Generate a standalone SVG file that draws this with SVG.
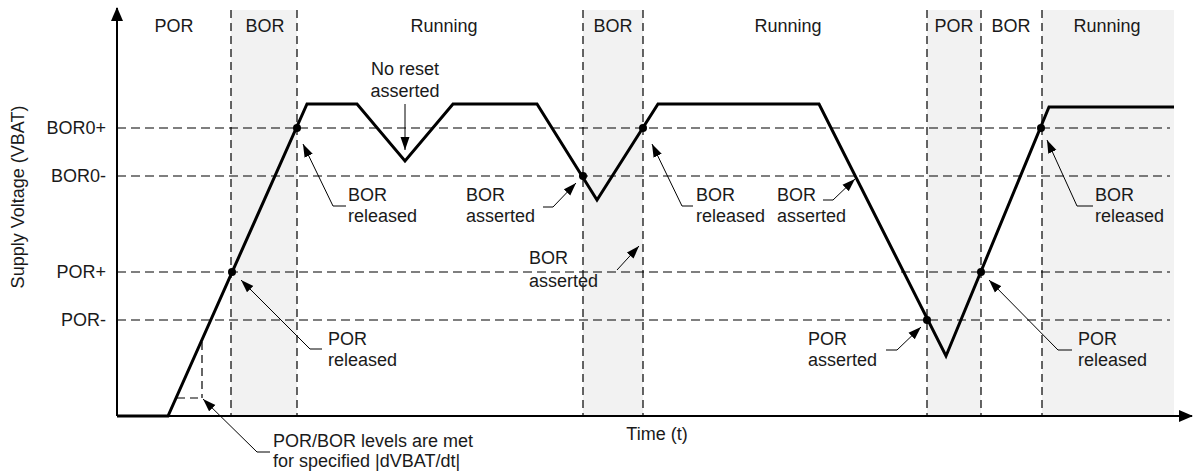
<svg xmlns="http://www.w3.org/2000/svg" width="1193" height="474" viewBox="0 0 1193 474">
<style>
text{font-family:"Liberation Sans",Arial,sans-serif;font-size:18px;fill:#1a1a1a}
.band{fill:#f2f2f2}
.vd{stroke:#000;stroke-width:1.2;stroke-dasharray:8,5;fill:none}
.hd{stroke:#000;stroke-width:1.2;stroke-dasharray:9,5;fill:none}
.axis{stroke:#000;stroke-width:2;fill:none}
.wave{stroke:#000;stroke-width:3;fill:none;stroke-linejoin:miter}
.lead{stroke:#000;stroke-width:1;fill:none;marker-end:url(#ah)}
.dot{fill:#000}
.mid{text-anchor:middle}
.end{text-anchor:end}
</style>
<defs>
<marker id="ah" markerUnits="userSpaceOnUse" markerWidth="14" markerHeight="10" refX="13" refY="5" orient="auto">
<path d="M0,0.5 L13,5 L0,9.5 z" fill="#000"/>
</marker>
<marker id="axh" markerUnits="userSpaceOnUse" markerWidth="14" markerHeight="12" refX="13" refY="6" orient="auto">
<path d="M0,0 L14,6 L0,12 z" fill="#000"/>
</marker>
</defs>
<g id="bands">
<rect class="band" x="231" y="10" width="66" height="406"/>
<rect class="band" x="583" y="10" width="60" height="406"/>
<rect class="band" x="927" y="10" width="54" height="406"/>
<rect class="band" x="1042" y="10" width="132" height="406"/>
</g>
<g id="grid">
<line class="hd" x1="117" y1="128" x2="1170" y2="128"/>
<line class="hd" x1="117" y1="176" x2="1170" y2="176"/>
<line class="hd" x1="117" y1="272" x2="1170" y2="272"/>
<line class="hd" x1="117" y1="320" x2="1170" y2="320"/>
<line class="vd" x1="231" y1="10" x2="231" y2="416"/>
<line class="vd" x1="297" y1="10" x2="297" y2="416"/>
<line class="vd" x1="583" y1="10" x2="583" y2="416"/>
<line class="vd" x1="643" y1="10" x2="643" y2="416"/>
<line class="vd" x1="927" y1="10" x2="927" y2="416"/>
<line class="vd" x1="981" y1="10" x2="981" y2="416"/>
<line class="vd" x1="1042" y1="10" x2="1042" y2="416"/>
<line class="vd" x1="202" y1="342" x2="202" y2="398"/>
<line class="vd" x1="177" y1="398" x2="202" y2="398"/>
</g>
<g id="axes">
<line class="axis" x1="117" y1="416" x2="117" y2="8" marker-end="url(#axh)"/>
<line class="axis" x1="117" y1="416" x2="1192" y2="416" marker-end="url(#axh)"/>
<text x="24" y="197" class="mid" transform="rotate(-90 24 197)">Supply Voltage (VBAT)</text>
<text x="657" y="440" class="mid">Time (t)</text>
<text x="106" y="134" class="end">BOR0+</text>
<text x="106" y="182" class="end">BOR0-</text>
<text x="106" y="278" class="end">POR+</text>
<text x="106" y="326" class="end">POR-</text>
</g>
<g id="phase-labels">
<text x="174" y="32" class="mid">POR</text>
<text x="265" y="32" class="mid">BOR</text>
<text x="444" y="32" class="mid">Running</text>
<text x="613" y="32" class="mid">BOR</text>
<text x="788" y="32" class="mid">Running</text>
<text x="954" y="32" class="mid">POR</text>
<text x="1011" y="32" class="mid">BOR</text>
<text x="1107" y="32" class="mid">Running</text>
</g>
<g id="waveform">
<polyline class="wave" points="117,416 168,416 307,104 357,104 405,161 453,104 537,104 597,200 658,104 819,104 946,356 1049,107 1174,107"/>
<circle class="dot" cx="297" cy="128" r="4"/>
<circle class="dot" cx="232" cy="272" r="4"/>
<circle class="dot" cx="583" cy="176" r="4"/>
<circle class="dot" cx="643" cy="128" r="4"/>
<circle class="dot" cx="927" cy="320" r="4"/>
<circle class="dot" cx="981" cy="272" r="4"/>
<circle class="dot" cx="1041" cy="128" r="4"/>
</g>
<g id="connectors">
<polyline class="lead" points="405,104 405,150"/>
<polyline class="lead" points="346,206 333,206 303,144"/>
<polyline class="lead" points="543,207 553,207 576,183"/>
<polyline class="lead" points="693,206 682,206 652,144"/>
<polyline class="lead" points="823,200 833,200 855,179"/>
<polyline class="lead" points="617,270 639,246"/>
<polyline class="lead" points="322,349 310,349 241,280"/>
<polyline class="lead" points="270,452 257,452 203,399"/>
<polyline class="lead" points="886,350 897,350 921,327"/>
<polyline class="lead" points="1072,350 1058,350 989,280"/>
<polyline class="lead" points="1093,206 1077,206 1047,140"/>
</g>
<g id="note-no-reset"><text x="405" y="75" class="mid">No reset</text><text x="405" y="97" class="mid">asserted</text></g>
<g id="note-bor-released-1"><text x="348" y="201">BOR</text><text x="348" y="222">released</text></g>
<g id="note-bor-asserted-1"><text x="466" y="201">BOR</text><text x="466" y="222">asserted</text></g>
<g id="note-bor-released-2"><text x="696" y="201">BOR</text><text x="696" y="222">released</text></g>
<g id="note-bor-asserted-2"><text x="777" y="201">BOR</text><text x="777" y="222">asserted</text></g>
<g id="note-bor-asserted-mid"><text x="529" y="264">BOR</text><text x="529" y="287">asserted</text></g>
<g id="note-por-released-1"><text x="328" y="345">POR</text><text x="328" y="366">released</text></g>
<g id="note-levels"><text x="273" y="447">POR/BOR levels are met</text><text x="273" y="467">for specified |dVBAT/dt|</text></g>
<g id="note-por-asserted"><text x="808" y="345">POR</text><text x="808" y="366">asserted</text></g>
<g id="note-por-released-2"><text x="1078" y="345">POR</text><text x="1078" y="366">released</text></g>
<g id="note-bor-released-3"><text x="1095" y="201">BOR</text><text x="1095" y="222">released</text></g>
</svg>
